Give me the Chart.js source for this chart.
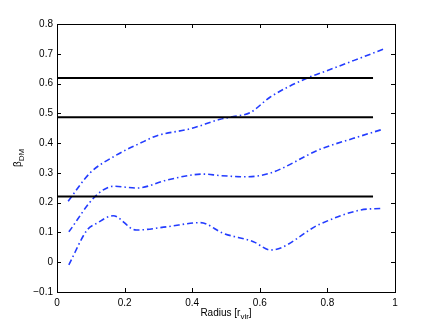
<!DOCTYPE html>
<html><head><meta charset="utf-8">
<script src="https://cdn.jsdelivr.net/npm/chart.js@4/dist/chart.umd.min.js"></script>
<style>html,body{margin:0;padding:0;background:#fff;overflow:hidden}canvas{display:block}</style>
</head><body>
<canvas id="c" width="436" height="328"></canvas>
<script>
// ---- data ----
const xTicks = [0, 0.2, 0.4, 0.6, 0.8, 1];
const yTicks = [-0.1, 0, 0.1, 0.2, 0.3, 0.4, 0.5, 0.6, 0.7, 0.8];
const refLevels = [0.619, 0.487, 0.221];
const refRange = [0, 0.935];

const upperR    = [0.033, 0.098, 0.173, 0.256, 0.296, 0.394, 0.483, 0.522, 0.571, 0.63, 0.739, 0.798, 0.877, 0.965];
const upperBeta = [0.205, 0.300, 0.358, 0.405, 0.425, 0.448, 0.480, 0.489, 0.502, 0.554, 0.618, 0.643, 0.677, 0.715];

const midR    = [0.035, 0.113, 0.168, 0.237, 0.325, 0.434, 0.482, 0.561, 0.63, 0.778, 0.877, 0.965];
const midBeta = [0.102, 0.221, 0.255, 0.249, 0.276, 0.296, 0.291, 0.287, 0.299, 0.379, 0.416, 0.447];

const lowR    = [0.035, 0.089, 0.118, 0.166, 0.234, 0.325, 0.424, 0.492, 0.581, 0.632, 0.778, 0.896, 0.962];
const lowBeta = [-0.009, 0.108, 0.131, 0.156, 0.108, 0.119, 0.133, 0.097, 0.069, 0.041, 0.128, 0.175, 0.181];

const xLabel = ['Radius [r', 'vir', ']'];
const yLabel = ['β', 'DM'];

// ---- build ----
const pts = (xs, ys) => xs.map((x, i) => ({x, y: ys[i]}));
const BLUE = 'rgb(35,60,255)';
const dashDot = [6, 3, 1.5, 3];

const datasets = [];
refLevels.forEach(v => datasets.push({
  data: pts(refRange, [v, v]), borderColor: '#000', borderWidth: 2, pointRadius: 0, showLine: true, tension: 0
}));
[[upperR, upperBeta], [midR, midBeta], [lowR, lowBeta]].forEach(([xs, ys]) => datasets.push({
  data: pts(xs, ys), borderColor: BLUE, borderWidth: 1.6, borderDash: dashDot, pointRadius: 0, showLine: true,
  cubicInterpolationMode: 'monotone'
}));

const FONT = 'Liberation Sans, Arial, Helvetica, sans-serif';

const frame = {
  id: 'frame',
  afterDatasetsDraw(chart) {
    const {ctx, chartArea: a, scales} = chart;
    ctx.save();
    ctx.strokeStyle = '#000';
    ctx.lineWidth = 1;
    ctx.strokeRect(Math.round(a.left) + 0.5, Math.round(a.top) + 0.5, Math.round(a.right - a.left), Math.round(a.bottom - a.top));
    const tl = 4;
    ctx.beginPath();
    xTicks.forEach(v => {
      const px = Math.round(scales.x.getPixelForValue(v)) + 0.5;
      ctx.moveTo(px, a.bottom); ctx.lineTo(px, a.bottom - tl);
      ctx.moveTo(px, a.top); ctx.lineTo(px, a.top + tl);
    });
    yTicks.forEach(v => {
      const py = Math.round(scales.y.getPixelForValue(v)) + 0.5;
      ctx.moveTo(a.left, py); ctx.lineTo(a.left + tl, py);
      ctx.moveTo(a.right, py); ctx.lineTo(a.right - tl, py);
    });
    ctx.stroke();

    // x title with subscript
    ctx.fillStyle = '#000';
    ctx.textBaseline = 'alphabetic';
    ctx.textAlign = 'left';
    const mainF = '10px ' + FONT, subF = '8px ' + FONT;
    ctx.font = mainF; const w1 = ctx.measureText(xLabel[0]).width, w3 = ctx.measureText(xLabel[2]).width;
    ctx.font = subF; const w2 = ctx.measureText(xLabel[1]).width;
    const cx = (a.left + a.right) / 2;
    let x0 = cx - (w1 + w2 + w3) / 2;
    const by = 316;
    ctx.font = mainF; ctx.fillText(xLabel[0], x0, by);
    ctx.font = subF; ctx.fillText(xLabel[1], x0 + w1, by + 3);
    ctx.font = mainF; ctx.fillText(xLabel[2], x0 + w1 + w2, by);

    // y title rotated with subscript
    ctx.save();
    const cy = (a.top + a.bottom) / 2;
    ctx.translate(21, cy);
    ctx.rotate(-Math.PI / 2);
    ctx.font = mainF; const b1 = ctx.measureText(yLabel[0]).width;
    ctx.font = subF; const b2 = ctx.measureText(yLabel[1]).width;
    const s0 = -(b1 + b2) / 2;
    ctx.font = mainF; ctx.fillText(yLabel[0], s0, 0);
    ctx.font = subF; ctx.fillText(yLabel[1], s0 + b1, 3);
    ctx.restore();
    ctx.restore();
  }
};

const fmt = v => {
  const r = Math.round(v * 10) / 10;
  return (r < 0 ? '\u2212' : '') + String(Math.abs(r));
};

new Chart(document.getElementById('c'), {
  type: 'scatter',
  data: {datasets},
  options: {
    responsive: false, animation: false, devicePixelRatio: 1,
    layout: {padding: {left: 0, top: 24, right: 41, bottom: 0}},
    plugins: {legend: {display: false}, tooltip: {enabled: false}},
    scales: {
      x: {
        type: 'linear', min: 0, max: 1,
        afterBuildTicks: s => { s.ticks = xTicks.map(v => ({value: v})); },
        afterFit: s => { s.height = 36; },
        grid: {display: false, drawTicks: false},
        border: {display: false},
        ticks: {color: '#000', font: {family: FONT, size: 10}, padding: 5, maxRotation: 0, autoSkip: false, callback: fmt}
      },
      y: {
        type: 'linear', min: -0.1, max: 0.8,
        afterBuildTicks: s => { s.ticks = yTicks.map(v => ({value: v})); },
        afterFit: s => { s.width = 57; },
        grid: {display: false, drawTicks: false},
        border: {display: false},
        ticks: {color: '#000', font: {family: FONT, size: 10}, padding: 4, autoSkip: false, callback: fmt}
      }
    }
  },
  plugins: [frame]
});
</script>
</body></html>
